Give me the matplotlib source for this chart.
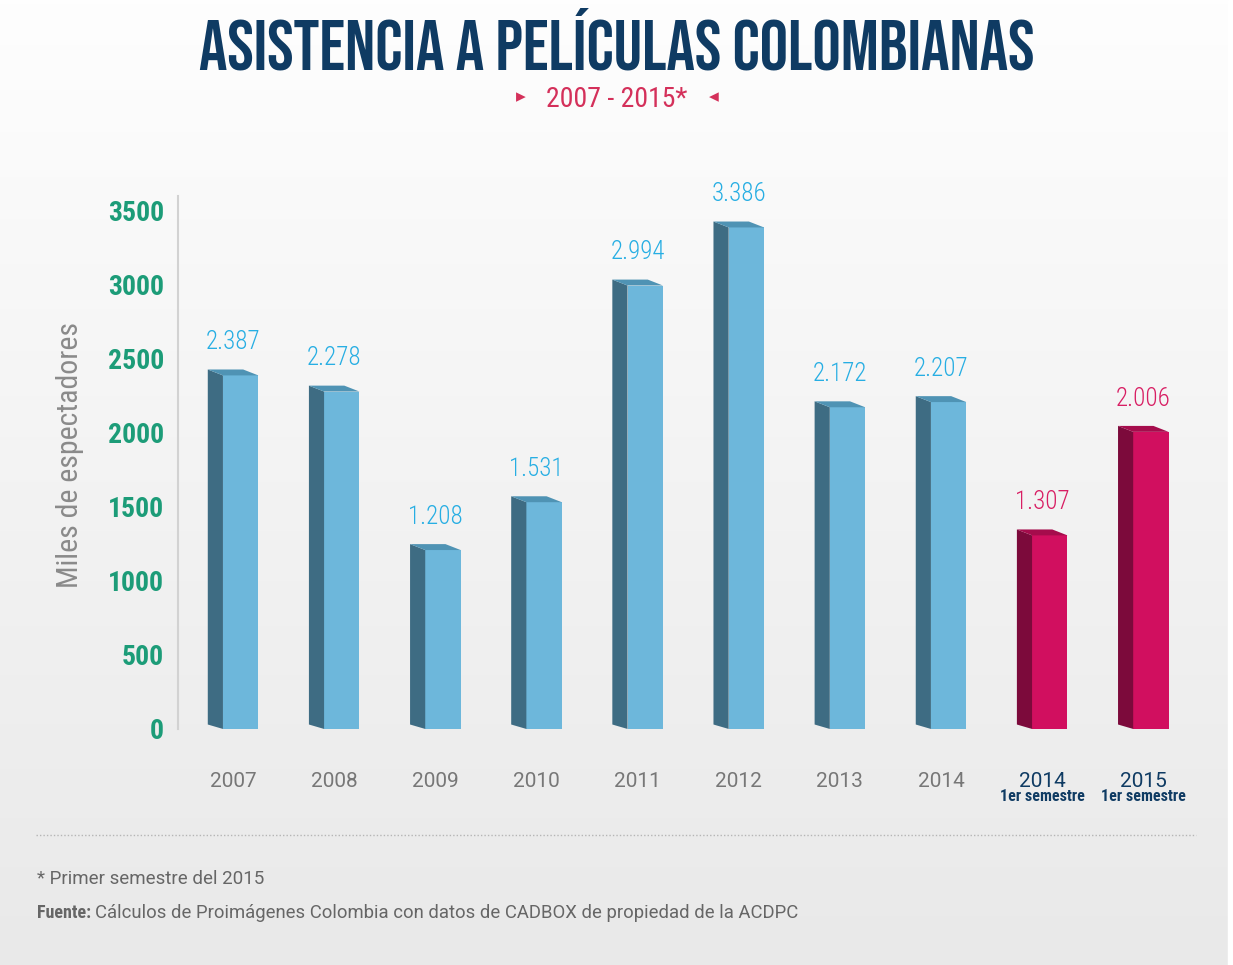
import matplotlib
matplotlib.use("Agg")
import matplotlib.pyplot as plt
import numpy as np
from matplotlib import font_manager
from matplotlib.patches import Polygon
from matplotlib.transforms import blended_transform_factory

# data (miles de espectadores)
categories = ["2007", "2008", "2009", "2010", "2011", "2012", "2013", "2014", "2014", "2015"]
semester_flag = [False] * 8 + [True, True]
values = [2387, 2278, 1208, 1531, 2994, 3386, 2172, 2207, 1307, 2006]
value_labels = ["2.387", "2.278", "1.208", "1.531", "2.994", "3.386", "2.172", "2.207", "1.307", "2.006"]
yticks = [0, 500, 1000, 1500, 2000, 2500, 3000, 3500]

names = {f.name for f in font_manager.fontManager.ttflist}


def pick(*cands):
    for c in cands:
        if c in names:
            return c
    return "DejaVu Sans"


TITLE_FONT = pick("Bebas Neue", "League Gothic", "Anton", "Fjalla One", "Oswald", "Antonio")
NARROW = pick("Roboto Condensed", "Pragati Narrow", "Archivo Narrow", "PT Sans Narrow",
              "IBM Plex Sans Condensed", "Open Sans Condensed")
BOLD_NARROW = pick("Roboto Condensed", "Fjalla One", "IBM Plex Sans Condensed", "Archivo Narrow")
REGULAR = pick("Roboto", "Liberation Sans")
plt.rcParams["font.family"] = [NARROW, "DejaVu Sans"]

BLUE = ("#6db7db", "#3e6c83", "#4f93b4")   # front, side, top
PINK = ("#d10f5f", "#7c0a3b", "#a50c4c")
NAVY = "#0f3b63"
GREEN = "#1c9c78"

fig = plt.figure(figsize=(12.33, 9.65), dpi=100)

# background gradient
bg = fig.add_axes([0, 0, 1, 1], zorder=-10)
grad = np.linspace(0, 1, 256).reshape(-1, 1)
cmap = matplotlib.colors.LinearSegmentedColormap.from_list("bg", ["#fefefe", "#f3f3f3", "#e9e9e9"])
bg.imshow(grad, aspect="auto", cmap=cmap, extent=[0, 1, 0, 1], origin="upper")
bg.axvspan(0.996, 1, color="white")
bg.set_xlim(0, 1)
bg.set_ylim(0, 1)
bg.axis("off")

ax = fig.add_axes([0.1444, 0.2446, 0.837, 0.5679])
ax.patch.set_alpha(0)
ax.set_xlim(-0.544, 9.66)
ax.set_ylim(0, 3700)


def draw_bar(ax, i, v, cols):
    front, side, top = cols
    ax.add_patch(Polygon([(i - 0.10, 0), (i + 0.25, 0), (i + 0.25, v), (i - 0.10, v)],
                         closed=True, facecolor=front, edgecolor="none", zorder=3))
    ax.add_patch(Polygon([(i - 0.25, 30), (i - 0.10, 0), (i - 0.10, v), (i - 0.25, v + 40)],
                         closed=True, facecolor=side, edgecolor="none", zorder=3))
    ax.add_patch(Polygon([(i - 0.25, v + 40), (i - 0.10, v), (i + 0.25, v), (i + 0.10, v + 40)],
                         closed=True, facecolor=top, edgecolor="none", zorder=3))


for i, (v, lab, sem) in enumerate(zip(values, value_labels, semester_flag)):
    cols = PINK if sem else BLUE
    draw_bar(ax, i, v, cols)
    ax.annotate(lab, (i, v + 40), xytext=(0, 11), textcoords="offset points",
                ha="center", va="bottom", fontsize=18, fontweight="light",
                color="#d81e63" if sem else "#27aee3")

for s in ["top", "right", "bottom"]:
    ax.spines[s].set_visible(False)
ax.spines["left"].set_bounds(0, 3600)
ax.spines["left"].set_color("#d2d2d2")
ax.spines["left"].set_linewidth(1.5)

ax.set_yticks(yticks)
ax.set_yticklabels([str(t) for t in yticks], fontsize=20, fontweight="bold", color=GREEN,
                   family=[BOLD_NARROW, "DejaVu Sans"])
ax.tick_params(axis="y", length=0, pad=10)

ax.set_xticks(range(len(categories)))
ax.set_xticklabels(categories, fontsize=15, family=[REGULAR, "DejaVu Sans"])
ax.tick_params(axis="x", length=0, pad=31)
for tl, sem in zip(ax.get_xticklabels(), semester_flag):
    tl.set_color(NAVY if sem else "#777777")

trans = blended_transform_factory(ax.transData, ax.transAxes)
for i, sem in enumerate(semester_flag):
    if sem:
        ax.text(i, -0.124, "1er semestre", transform=trans, ha="center", va="center",
                fontsize=11.5, fontweight="bold", color=NAVY)

ax.set_ylabel("Miles de espectadores", fontsize=21.5, color="#8a8a8a", labelpad=17)

# title and subtitle
fig.text(0.5005, 0.96, "ASISTENCIA A PELÍCULAS COLOMBIANAS", ha="center", va="center",
         fontsize=51, fontweight="bold", color=NAVY, family=[TITLE_FONT, "DejaVu Sans"])
fig.text(0.5005, 0.897, "2007 - 2015*", ha="center", va="center", fontsize=20, color="#d4305a")
fig.text(0.422, 0.9, "▸", ha="center", va="center", fontsize=14, color="#d4305a", family="DejaVu Sans")
fig.text(0.579, 0.9, "◂", ha="center", va="center", fontsize=14, color="#d4305a", family="DejaVu Sans")

# footer
fig.add_artist(plt.Line2D([0.029, 0.97], [0.135, 0.135], color="#b5b5b5", lw=1,
                          linestyle=(0, (1, 1.5))))
fig.text(0.03, 0.089, "* Primer semestre del 2015", ha="left", va="center", fontsize=13.5,
         color="#666666", family=[REGULAR, "DejaVu Sans"])
t1 = fig.text(0.03, 0.054, "Fuente:", ha="left", va="center", fontsize=13, fontweight="bold",
              color="#666666")
fig.canvas.draw()
bb = t1.get_window_extent()
fig.text(bb.x1 / fig.bbox.width + 0.003, 0.054,
         "Cálculos de Proimágenes Colombia con datos de CADBOX de propiedad de la ACDPC",
         ha="left", va="center", fontsize=13.3, color="#666666", family=[REGULAR, "DejaVu Sans"])

fig.savefig("out.png", dpi=100)
